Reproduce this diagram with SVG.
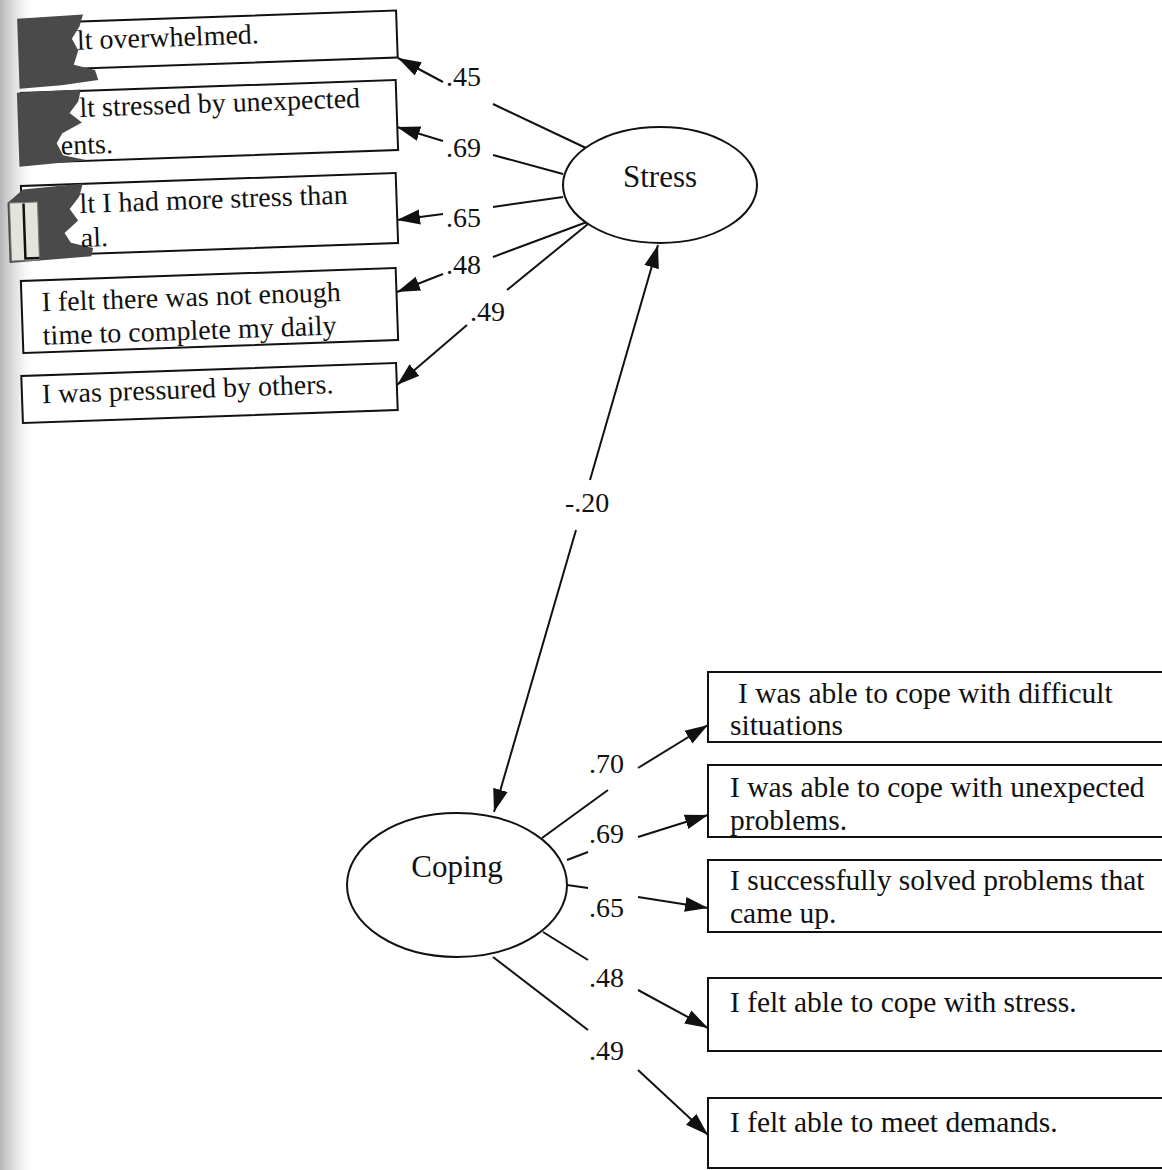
<svg xmlns="http://www.w3.org/2000/svg" width="1162" height="1170" viewBox="0 0 1162 1170">
<defs>
<style>
.box{fill:#fff;stroke:#111;stroke-width:2}
.ell{fill:#fff;stroke:#111;stroke-width:2}
.t{font-family:"Liberation Serif","Times New Roman",serif;fill:#111}
.lt{font-size:28px}
.rt{font-size:29.5px}
.et{font-size:31px;text-anchor:middle}
.lab{font-family:"Liberation Serif","Times New Roman",serif;font-size:28px;fill:#111}
.ln{stroke:#111;stroke-width:2;fill:none}
.arr{stroke:#111;stroke-width:2;fill:none;marker-end:url(#ah)}
.smudge{fill:#4a4a4a}
</style>
<marker id="ah" markerUnits="userSpaceOnUse" markerWidth="24" markerHeight="18" refX="23" refY="9" orient="auto">
<path d="M0,1.5 L23,9 L0,16.5 z" fill="#111"/>
</marker>
<linearGradient id="shade" x1="0" y1="0" x2="1" y2="0">
<stop offset="0" stop-color="#a8a8a8" stop-opacity="0.85"/>
<stop offset="0.5" stop-color="#d0d0d0" stop-opacity="0.5"/>
<stop offset="1" stop-color="#ffffff" stop-opacity="0"/>
</linearGradient>
<clipPath id="c4"><rect x="23" y="275.5" width="373" height="70"/></clipPath>
<clipPath id="cr2"><rect x="709" y="766" width="460" height="70"/></clipPath>
<clipPath id="cr3"><rect x="709" y="861" width="460" height="70"/></clipPath>
</defs>
<rect x="0" y="0" width="1162" height="1170" fill="#ffffff"/>
<rect x="0" y="0" width="36" height="1170" fill="url(#shade)"/>

<g id="connectors">
<line class="ln" x1="586" y1="148" x2="493" y2="104"/>
<line class="arr" x1="443" y1="82" x2="398" y2="58"/>
<line class="ln" x1="563" y1="174" x2="493" y2="155"/>
<line class="arr" x1="443" y1="141" x2="397" y2="127"/>
<line class="ln" x1="563" y1="197" x2="493" y2="207"/>
<line class="arr" x1="443" y1="214" x2="397" y2="220"/>
<line class="ln" x1="587" y1="222" x2="493" y2="257"/>
<line class="arr" x1="443" y1="274" x2="397" y2="292"/>
<line class="ln" x1="588" y1="224" x2="507" y2="290"/>
<line class="arr" x1="467" y1="325" x2="397" y2="385"/>
<line class="arr" x1="590" y1="480" x2="658" y2="245"/>
<line class="arr" x1="576" y1="530" x2="494" y2="812"/>
<line class="ln" x1="542" y1="838" x2="608" y2="790"/>
<line class="arr" x1="638" y1="768" x2="708" y2="725"/>
<line class="ln" x1="567" y1="860" x2="588" y2="852"/>
<line class="arr" x1="638" y1="837" x2="708" y2="815"/>
<line class="ln" x1="567" y1="885" x2="588" y2="888"/>
<line class="arr" x1="638" y1="897" x2="708" y2="908"/>
<line class="ln" x1="543" y1="932" x2="588" y2="960"/>
<line class="arr" x1="638" y1="990" x2="708" y2="1028"/>
<line class="ln" x1="493" y1="957" x2="588" y2="1030"/>
<line class="arr" x1="638" y1="1070" x2="708" y2="1135"/>
<text class="lab" x="446" y="86">.45</text>
<text class="lab" x="446" y="157">.69</text>
<text class="lab" x="446" y="227">.65</text>
<text class="lab" x="446" y="274">.48</text>
<text class="lab" x="470" y="321">.49</text>
<text class="lab" x="565" y="512">-.20</text>
<text class="lab" x="589" y="773">.70</text>
<text class="lab" x="589" y="843">.69</text>
<text class="lab" x="589" y="917">.65</text>
<text class="lab" x="589" y="987">.48</text>
<text class="lab" x="589" y="1060">.49</text>
</g>

<g id="stress">
<ellipse class="ell" cx="660" cy="185" rx="97" ry="58"/>
<text class="t et" x="660" y="187">Stress</text>
</g>
<g id="coping">
<ellipse class="ell" cx="457" cy="885" rx="110" ry="72"/>
<text class="t et" x="457" y="877">Coping</text>
</g>

<g id="item-s1" transform="rotate(-2 210 40.5)">
<rect class="box" x="22" y="17" width="375" height="47"/>
<path class="smudge" d="M18,12 L84,10 L80,22 L72,34 L78,46 L73,60 L94,66 L97,76 L60,80 L18,82 z"/>
<text class="t lt" x="77" y="45">lt overwhelmed.</text>
</g>
<g id="item-s2" transform="rotate(-2 210 121.5)">
<rect class="box" x="22" y="86.5" width="375" height="70"/>
<path class="smudge" d="M18,86 L82,85 L79,97 L70,108 L82,118 L62,128 L56,138 L62,150 L86,156 L18,160 z"/>
<text class="t lt" x="80" y="112.5">lt stressed by unexpected</text>
<text class="t lt" x="60" y="149.5">ents.</text>
</g>
<g id="item-s3" transform="rotate(-2 210 214.5)">
<rect class="box" x="22" y="179.5" width="375" height="70"/>
<path class="smudge" d="M8,196 L24,183 L84,179 L80,192 L70,204 L78,216 L64,228 L70,238 L92,244 L90,252 L8,256 z"/>
<rect x="10" y="196" width="28" height="58" fill="#e4e4dc" stroke="#777" stroke-width="1"/>
<path d="M24,197 L24,252 L38,252" stroke="#111" stroke-width="2.5" fill="none"/>
<text class="t lt" x="80" y="208.5">lt I had more stress than</text>
<text class="t lt" x="80" y="242.5">al.</text>
</g>
<g id="item-s4" transform="rotate(-2 210 310.5)">
<rect class="box" x="22" y="274.5" width="375" height="72"/>
<g clip-path="url(#c4)">
<text class="t lt" x="42" y="305.5">I felt there was not enough</text>
<text class="t lt" x="42" y="339">time to complete my daily</text>
</g>
</g>
<g id="item-s5" transform="rotate(-2 210 393)">
<rect class="box" x="22" y="369.5" width="375" height="47"/>
<text class="t lt" x="42" y="397.5">I was pressured by others.</text>
</g>

<g id="item-c1">
<rect class="box" x="708" y="672" width="470" height="70"/>
<text class="t rt" x="738" y="703">I was able to cope with difficult</text>
<text class="t rt" x="730" y="735">situations</text>
</g>
<g id="item-c2">
<rect class="box" x="708" y="765" width="470" height="72"/>
<g clip-path="url(#cr2)">
<text class="t rt" x="730" y="797">I was able to cope with unexpected</text>
<text class="t rt" x="730" y="830">problems.</text>
</g>
</g>
<g id="item-c3">
<rect class="box" x="708" y="860" width="470" height="72"/>
<g clip-path="url(#cr3)">
<text class="t rt" x="730" y="890">I successfully solved problems that</text>
<text class="t rt" x="730" y="923">came up.</text>
</g>
</g>
<g id="item-c4">
<rect class="box" x="708" y="978" width="470" height="73"/>
<text class="t rt" x="730" y="1012">I felt able to cope with stress.</text>
</g>
<g id="item-c5">
<rect class="box" x="708" y="1098" width="470" height="70"/>
<text class="t rt" x="730" y="1132">I felt able to meet demands.</text>
</g>
</svg>
